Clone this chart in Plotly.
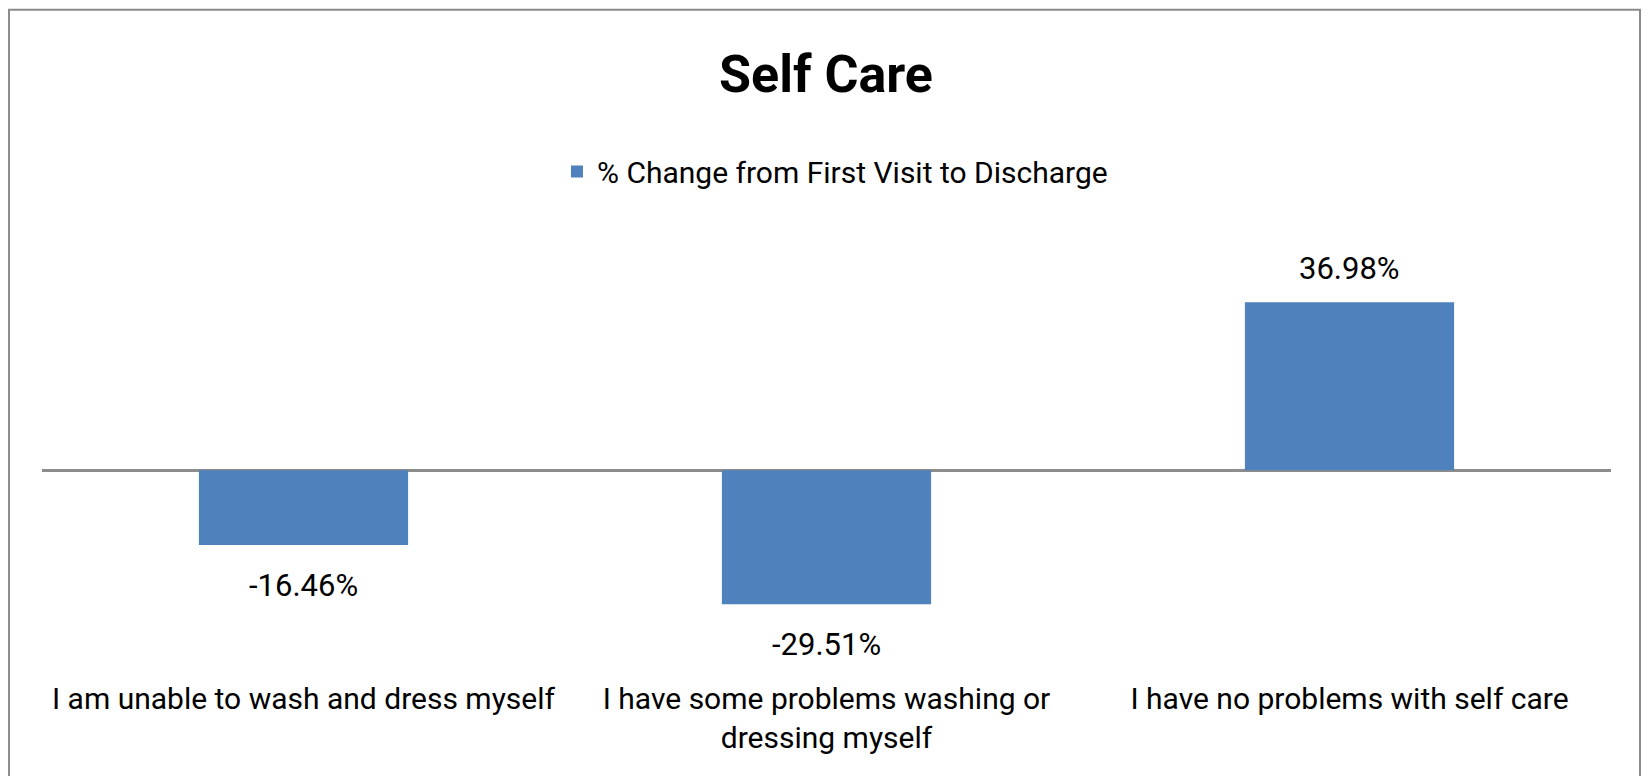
import plotly.graph_objects as go

categories = ["I am unable to wash and dress myself",
              "I have some problems washing or<br>dressing myself",
              "I have no problems with self care"]
values = [-16.46, -29.51, 36.98]
series_name = "% Change from First Visit to Discharge"
title_text = "Self Care"

FONT = "Roboto, Liberation Sans, sans-serif"
BLUE = "#4F81BD"

# page body has an 8px margin; work in screen coords and subtract it
O = 8
W, H = 1649 - 2 * O, 784 - 2 * O
SL, SR, ST, SB = 42, 1611, 242.5, 652  # plot area in screen px
L, T = SL - O, ST - O
R = W - (SR - O)
B = H - (SB - O)
pw, ph = W - L - R, H - T - B

def px_x(x):
    return (x - O - L) / pw

def px_y(y):
    return (H - B - (y - O)) / ph

fig = go.Figure()
fig.add_trace(go.Bar(x=categories, y=values, name=series_name,
                     marker=dict(color=BLUE, line=dict(width=0)),
                     hoverinfo="skip"))

for c, v in zip(categories, values):
    fig.add_annotation(x=c, y=v, text=f"{v:.2f}%", showarrow=False,
                       yanchor="middle", yshift=34 if v >= 0 else -40,
                       font=dict(family=FONT, size=31, color="#000"))

fig.add_shape(type="rect", xref="paper", yref="paper",
              x0=px_x(O + 1), x1=px_x(O + W - 1), y0=px_y(O + H + 20), y1=px_y(O + 1),
              line=dict(color="#8c8c8c", width=2), fillcolor="rgba(0,0,0,0)")

fig.update_layout(
    width=W, height=H,
    margin=dict(l=L, r=R, t=T, b=B),
    paper_bgcolor="white", plot_bgcolor="white",
    title=dict(text=f"<b>{title_text}</b>", x=(826 - O) / W, xanchor="center",
               y=1 - (74 - O) / H, yanchor="middle",
               font=dict(family=FONT, size=52, color="#000")),
    showlegend=True,
    legend=dict(orientation="h", x=px_x(835), xanchor="center",
                y=px_y(171), yanchor="middle",
                font=dict(family=FONT, size=30, color="#000"),
                itemwidth=30, bgcolor="rgba(0,0,0,0)"),
    bargap=0.6,
    xaxis=dict(showline=False, showgrid=False, ticks="",
               ticklabelstandoff=26,
               tickfont=dict(family=FONT, size=30, color="#000")),
    yaxis=dict(range=[-40, 50], showgrid=False, showticklabels=False,
               showline=False, zeroline=True, zerolinecolor="#8c8c8c",
               zerolinewidth=3, layer="above traces"),
)

fig.write_html("out.html")
